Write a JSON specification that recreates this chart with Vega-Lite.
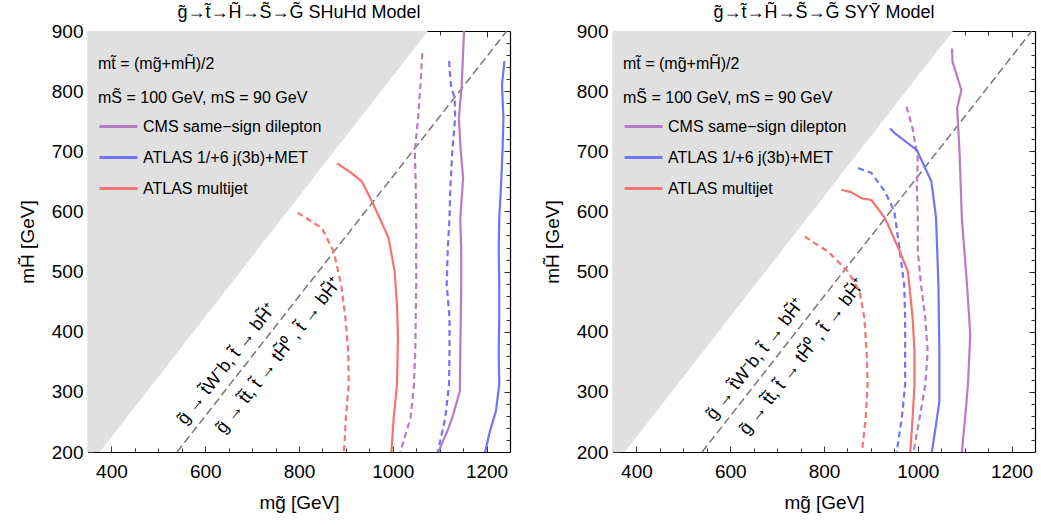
{
"$schema": "https://vega.github.io/schema/vega-lite/v6.json",
"background": "white",
"padding": {"left": 18, "top": 4, "right": 4, "bottom": 4},
"config": {
  "view": {"stroke": null},
  "font": "Liberation Sans",
  "axis": {"labelFont": "Liberation Sans", "titleFont": "Liberation Sans", "labelFontSize": 19, "titleFontSize": 19, "titleFontWeight": "normal", "labelColor": "#000", "titleColor": "#000", "grid": false, "domainColor": "#000", "domainWidth": 1.2, "tickColor": "#333", "tickWidth": 1, "format": "d"}
},
"datasets": {
  "forbidden": [{"mg": 350, "mh": 175}, {"mg": 1075, "mh": 900}],
  "diag": [{"mg": 540, "mh": 200}, {"mg": 1243, "mh": 900}],
  "notes": [
    {"p": "L", "mg": 646, "mh": 346, "t": "g̃ → t̃W⁻b,  t̃ → bH̃⁺"},
    {"p": "L", "mg": 757, "mh": 360, "t": "g̃ → t̃t̄, t̃ → tH̃⁰ , t̃ → bH̃⁺"},
    {"p": "R", "mg": 654, "mh": 354, "t": "g̃ → t̃W⁻b,  t̃ → bH̃⁺"},
    {"p": "R", "mg": 754, "mh": 358, "t": "g̃ → t̃t̄, t̃ → tH̃⁰ , t̃ → bH̃⁺"}
  ],
  "curves": [
    {"p":"L","c":"L1","e":"CMS same−sign dilepton","k":"solid","i":0,"mg":1152,"mh":900},
    {"p":"L","c":"L1","e":"CMS same−sign dilepton","k":"solid","i":1,"mg":1147,"mh":810},
    {"p":"L","c":"L1","e":"CMS same−sign dilepton","k":"solid","i":2,"mg":1141,"mh":755},
    {"p":"L","c":"L1","e":"CMS same−sign dilepton","k":"solid","i":3,"mg":1145,"mh":700},
    {"p":"L","c":"L1","e":"CMS same−sign dilepton","k":"solid","i":4,"mg":1150,"mh":655},
    {"p":"L","c":"L1","e":"CMS same−sign dilepton","k":"solid","i":5,"mg":1144,"mh":589},
    {"p":"L","c":"L1","e":"CMS same−sign dilepton","k":"solid","i":6,"mg":1146,"mh":533},
    {"p":"L","c":"L1","e":"CMS same−sign dilepton","k":"solid","i":7,"mg":1146,"mh":478},
    {"p":"L","c":"L1","e":"CMS same−sign dilepton","k":"solid","i":8,"mg":1145,"mh":423},
    {"p":"L","c":"L1","e":"CMS same−sign dilepton","k":"solid","i":9,"mg":1144,"mh":367},
    {"p":"L","c":"L1","e":"CMS same−sign dilepton","k":"solid","i":10,"mg":1143,"mh":301},
    {"p":"L","c":"L1","e":"CMS same−sign dilepton","k":"solid","i":11,"mg":1127,"mh":257},
    {"p":"L","c":"L1","e":"CMS same−sign dilepton","k":"solid","i":12,"mg":1116,"mh":234},
    {"p":"L","c":"L1","e":"CMS same−sign dilepton","k":"solid","i":13,"mg":1097,"mh":200},
    {"p":"L","c":"L2","e":"CMS same−sign dilepton","k":"dashed","i":0,"mg":1063,"mh":863},
    {"p":"L","c":"L2","e":"CMS same−sign dilepton","k":"dashed","i":1,"mg":1059,"mh":810},
    {"p":"L","c":"L2","e":"CMS same−sign dilepton","k":"dashed","i":2,"mg":1054,"mh":755},
    {"p":"L","c":"L2","e":"CMS same−sign dilepton","k":"dashed","i":3,"mg":1047,"mh":700},
    {"p":"L","c":"L2","e":"CMS same−sign dilepton","k":"dashed","i":4,"mg":1049,"mh":644},
    {"p":"L","c":"L2","e":"CMS same−sign dilepton","k":"dashed","i":5,"mg":1050,"mh":589},
    {"p":"L","c":"L2","e":"CMS same−sign dilepton","k":"dashed","i":6,"mg":1050,"mh":533},
    {"p":"L","c":"L2","e":"CMS same−sign dilepton","k":"dashed","i":7,"mg":1050,"mh":478},
    {"p":"L","c":"L2","e":"CMS same−sign dilepton","k":"dashed","i":8,"mg":1049,"mh":423},
    {"p":"L","c":"L2","e":"CMS same−sign dilepton","k":"dashed","i":9,"mg":1048,"mh":367},
    {"p":"L","c":"L2","e":"CMS same−sign dilepton","k":"dashed","i":10,"mg":1045,"mh":312},
    {"p":"L","c":"L2","e":"CMS same−sign dilepton","k":"dashed","i":11,"mg":1038,"mh":257},
    {"p":"L","c":"L2","e":"CMS same−sign dilepton","k":"dashed","i":12,"mg":1016,"mh":200},
    {"p":"L","c":"L3","e":"ATLAS 1/+6 j(3b)+MET","k":"dashed","i":0,"mg":1120,"mh":850},
    {"p":"L","c":"L3","e":"ATLAS 1/+6 j(3b)+MET","k":"dashed","i":1,"mg":1124,"mh":810},
    {"p":"L","c":"L3","e":"ATLAS 1/+6 j(3b)+MET","k":"dashed","i":2,"mg":1132,"mh":788},
    {"p":"L","c":"L3","e":"ATLAS 1/+6 j(3b)+MET","k":"dashed","i":3,"mg":1133,"mh":755},
    {"p":"L","c":"L3","e":"ATLAS 1/+6 j(3b)+MET","k":"dashed","i":4,"mg":1127,"mh":700},
    {"p":"L","c":"L3","e":"ATLAS 1/+6 j(3b)+MET","k":"dashed","i":5,"mg":1123,"mh":644},
    {"p":"L","c":"L3","e":"ATLAS 1/+6 j(3b)+MET","k":"dashed","i":6,"mg":1121,"mh":589},
    {"p":"L","c":"L3","e":"ATLAS 1/+6 j(3b)+MET","k":"dashed","i":7,"mg":1117,"mh":533},
    {"p":"L","c":"L3","e":"ATLAS 1/+6 j(3b)+MET","k":"dashed","i":8,"mg":1115,"mh":478},
    {"p":"L","c":"L3","e":"ATLAS 1/+6 j(3b)+MET","k":"dashed","i":9,"mg":1121,"mh":423},
    {"p":"L","c":"L3","e":"ATLAS 1/+6 j(3b)+MET","k":"dashed","i":10,"mg":1121,"mh":367},
    {"p":"L","c":"L3","e":"ATLAS 1/+6 j(3b)+MET","k":"dashed","i":11,"mg":1120,"mh":312},
    {"p":"L","c":"L3","e":"ATLAS 1/+6 j(3b)+MET","k":"dashed","i":12,"mg":1112,"mh":257},
    {"p":"L","c":"L3","e":"ATLAS 1/+6 j(3b)+MET","k":"dashed","i":13,"mg":1096,"mh":200},
    {"p":"L","c":"L4","e":"ATLAS 1/+6 j(3b)+MET","k":"solid","i":0,"mg":1238,"mh":850},
    {"p":"L","c":"L4","e":"ATLAS 1/+6 j(3b)+MET","k":"solid","i":1,"mg":1233,"mh":810},
    {"p":"L","c":"L4","e":"ATLAS 1/+6 j(3b)+MET","k":"solid","i":2,"mg":1236,"mh":755},
    {"p":"L","c":"L4","e":"ATLAS 1/+6 j(3b)+MET","k":"solid","i":3,"mg":1234,"mh":700},
    {"p":"L","c":"L4","e":"ATLAS 1/+6 j(3b)+MET","k":"solid","i":4,"mg":1231,"mh":644},
    {"p":"L","c":"L4","e":"ATLAS 1/+6 j(3b)+MET","k":"solid","i":5,"mg":1227,"mh":589},
    {"p":"L","c":"L4","e":"ATLAS 1/+6 j(3b)+MET","k":"solid","i":6,"mg":1226,"mh":533},
    {"p":"L","c":"L4","e":"ATLAS 1/+6 j(3b)+MET","k":"solid","i":7,"mg":1227,"mh":478},
    {"p":"L","c":"L4","e":"ATLAS 1/+6 j(3b)+MET","k":"solid","i":8,"mg":1227,"mh":423},
    {"p":"L","c":"L4","e":"ATLAS 1/+6 j(3b)+MET","k":"solid","i":9,"mg":1226,"mh":367},
    {"p":"L","c":"L4","e":"ATLAS 1/+6 j(3b)+MET","k":"solid","i":10,"mg":1227,"mh":312},
    {"p":"L","c":"L4","e":"ATLAS 1/+6 j(3b)+MET","k":"solid","i":11,"mg":1220,"mh":268},
    {"p":"L","c":"L4","e":"ATLAS 1/+6 j(3b)+MET","k":"solid","i":12,"mg":1207,"mh":234},
    {"p":"L","c":"L4","e":"ATLAS 1/+6 j(3b)+MET","k":"solid","i":13,"mg":1197,"mh":200},
    {"p":"L","c":"L5","e":"ATLAS multijet","k":"solid","i":0,"mg":881,"mh":680},
    {"p":"L","c":"L5","e":"ATLAS multijet","k":"solid","i":1,"mg":908,"mh":666},
    {"p":"L","c":"L5","e":"ATLAS multijet","k":"solid","i":2,"mg":934,"mh":650},
    {"p":"L","c":"L5","e":"ATLAS multijet","k":"solid","i":3,"mg":959,"mh":611},
    {"p":"L","c":"L5","e":"ATLAS multijet","k":"solid","i":4,"mg":991,"mh":556},
    {"p":"L","c":"L5","e":"ATLAS multijet","k":"solid","i":5,"mg":1004,"mh":500},
    {"p":"L","c":"L5","e":"ATLAS multijet","k":"solid","i":6,"mg":1009,"mh":445},
    {"p":"L","c":"L5","e":"ATLAS multijet","k":"solid","i":7,"mg":1011,"mh":390},
    {"p":"L","c":"L5","e":"ATLAS multijet","k":"solid","i":8,"mg":1009,"mh":312},
    {"p":"L","c":"L5","e":"ATLAS multijet","k":"solid","i":9,"mg":1002,"mh":257},
    {"p":"L","c":"L5","e":"ATLAS multijet","k":"solid","i":10,"mg":997,"mh":200},
    {"p":"L","c":"L6","e":"ATLAS multijet","k":"dashed","i":0,"mg":797,"mh":598},
    {"p":"L","c":"L6","e":"ATLAS multijet","k":"dashed","i":1,"mg":849,"mh":572},
    {"p":"L","c":"L6","e":"ATLAS multijet","k":"dashed","i":2,"mg":874,"mh":533},
    {"p":"L","c":"L6","e":"ATLAS multijet","k":"dashed","i":3,"mg":890,"mh":478},
    {"p":"L","c":"L6","e":"ATLAS multijet","k":"dashed","i":4,"mg":899,"mh":423},
    {"p":"L","c":"L6","e":"ATLAS multijet","k":"dashed","i":5,"mg":905,"mh":367},
    {"p":"L","c":"L6","e":"ATLAS multijet","k":"dashed","i":6,"mg":906,"mh":312},
    {"p":"L","c":"L6","e":"ATLAS multijet","k":"dashed","i":7,"mg":900,"mh":257},
    {"p":"L","c":"L6","e":"ATLAS multijet","k":"dashed","i":8,"mg":896,"mh":200},
    {"p":"R","c":"R1","e":"CMS same−sign dilepton","k":"solid","i":0,"mg":1073,"mh":871},
    {"p":"R","c":"R1","e":"CMS same−sign dilepton","k":"solid","i":1,"mg":1074,"mh":849},
    {"p":"R","c":"R1","e":"CMS same−sign dilepton","k":"solid","i":2,"mg":1093,"mh":802},
    {"p":"R","c":"R1","e":"CMS same−sign dilepton","k":"solid","i":3,"mg":1084,"mh":772},
    {"p":"R","c":"R1","e":"CMS same−sign dilepton","k":"solid","i":4,"mg":1089,"mh":700},
    {"p":"R","c":"R1","e":"CMS same−sign dilepton","k":"solid","i":5,"mg":1094,"mh":589},
    {"p":"R","c":"R1","e":"CMS same−sign dilepton","k":"solid","i":6,"mg":1105,"mh":478},
    {"p":"R","c":"R1","e":"CMS same−sign dilepton","k":"solid","i":7,"mg":1112,"mh":395},
    {"p":"R","c":"R1","e":"CMS same−sign dilepton","k":"solid","i":8,"mg":1107,"mh":312},
    {"p":"R","c":"R1","e":"CMS same−sign dilepton","k":"solid","i":9,"mg":1101,"mh":257},
    {"p":"R","c":"R1","e":"CMS same−sign dilepton","k":"solid","i":10,"mg":1094,"mh":200},
    {"p":"R","c":"R2","e":"CMS same−sign dilepton","k":"dashed","i":0,"mg":976,"mh":774},
    {"p":"R","c":"R2","e":"CMS same−sign dilepton","k":"dashed","i":1,"mg":989,"mh":738},
    {"p":"R","c":"R2","e":"CMS same−sign dilepton","k":"dashed","i":2,"mg":1000,"mh":688},
    {"p":"R","c":"R2","e":"CMS same−sign dilepton","k":"dashed","i":3,"mg":998,"mh":644},
    {"p":"R","c":"R2","e":"CMS same−sign dilepton","k":"dashed","i":4,"mg":1000,"mh":589},
    {"p":"R","c":"R2","e":"CMS same−sign dilepton","k":"dashed","i":5,"mg":1000,"mh":533},
    {"p":"R","c":"R2","e":"CMS same−sign dilepton","k":"dashed","i":6,"mg":1007,"mh":478},
    {"p":"R","c":"R2","e":"CMS same−sign dilepton","k":"dashed","i":7,"mg":1016,"mh":423},
    {"p":"R","c":"R2","e":"CMS same−sign dilepton","k":"dashed","i":8,"mg":1021,"mh":367},
    {"p":"R","c":"R2","e":"CMS same−sign dilepton","k":"dashed","i":9,"mg":1016,"mh":312},
    {"p":"R","c":"R2","e":"CMS same−sign dilepton","k":"dashed","i":10,"mg":1004,"mh":257},
    {"p":"R","c":"R2","e":"CMS same−sign dilepton","k":"dashed","i":11,"mg":991,"mh":200},
    {"p":"R","c":"R3","e":"ATLAS 1/+6 j(3b)+MET","k":"solid","i":0,"mg":941,"mh":738},
    {"p":"R","c":"R3","e":"ATLAS 1/+6 j(3b)+MET","k":"solid","i":1,"mg":951,"mh":730},
    {"p":"R","c":"R3","e":"ATLAS 1/+6 j(3b)+MET","k":"solid","i":2,"mg":998,"mh":702},
    {"p":"R","c":"R3","e":"ATLAS 1/+6 j(3b)+MET","k":"solid","i":3,"mg":1029,"mh":650},
    {"p":"R","c":"R3","e":"ATLAS 1/+6 j(3b)+MET","k":"solid","i":4,"mg":1039,"mh":589},
    {"p":"R","c":"R3","e":"ATLAS 1/+6 j(3b)+MET","k":"solid","i":5,"mg":1044,"mh":478},
    {"p":"R","c":"R3","e":"ATLAS 1/+6 j(3b)+MET","k":"solid","i":6,"mg":1046,"mh":367},
    {"p":"R","c":"R3","e":"ATLAS 1/+6 j(3b)+MET","k":"solid","i":7,"mg":1046,"mh":284},
    {"p":"R","c":"R3","e":"ATLAS 1/+6 j(3b)+MET","k":"solid","i":8,"mg":1039,"mh":246},
    {"p":"R","c":"R3","e":"ATLAS 1/+6 j(3b)+MET","k":"solid","i":9,"mg":1030,"mh":200},
    {"p":"R","c":"R4","e":"ATLAS 1/+6 j(3b)+MET","k":"dashed","i":0,"mg":873,"mh":672},
    {"p":"R","c":"R4","e":"ATLAS 1/+6 j(3b)+MET","k":"dashed","i":1,"mg":901,"mh":664},
    {"p":"R","c":"R4","e":"ATLAS 1/+6 j(3b)+MET","k":"dashed","i":2,"mg":930,"mh":633},
    {"p":"R","c":"R4","e":"ATLAS 1/+6 j(3b)+MET","k":"dashed","i":3,"mg":950,"mh":600},
    {"p":"R","c":"R4","e":"ATLAS 1/+6 j(3b)+MET","k":"dashed","i":4,"mg":962,"mh":533},
    {"p":"R","c":"R4","e":"ATLAS 1/+6 j(3b)+MET","k":"dashed","i":5,"mg":971,"mh":478},
    {"p":"R","c":"R4","e":"ATLAS 1/+6 j(3b)+MET","k":"dashed","i":6,"mg":973,"mh":423},
    {"p":"R","c":"R4","e":"ATLAS 1/+6 j(3b)+MET","k":"dashed","i":7,"mg":973,"mh":367},
    {"p":"R","c":"R4","e":"ATLAS 1/+6 j(3b)+MET","k":"dashed","i":8,"mg":973,"mh":312},
    {"p":"R","c":"R4","e":"ATLAS 1/+6 j(3b)+MET","k":"dashed","i":9,"mg":966,"mh":257},
    {"p":"R","c":"R4","e":"ATLAS 1/+6 j(3b)+MET","k":"dashed","i":10,"mg":955,"mh":200},
    {"p":"R","c":"R5","e":"ATLAS multijet","k":"solid","i":0,"mg":837,"mh":636},
    {"p":"R","c":"R5","e":"ATLAS multijet","k":"solid","i":1,"mg":858,"mh":632},
    {"p":"R","c":"R5","e":"ATLAS multijet","k":"solid","i":2,"mg":880,"mh":622},
    {"p":"R","c":"R5","e":"ATLAS multijet","k":"solid","i":3,"mg":901,"mh":619},
    {"p":"R","c":"R5","e":"ATLAS multijet","k":"solid","i":4,"mg":930,"mh":589},
    {"p":"R","c":"R5","e":"ATLAS multijet","k":"solid","i":5,"mg":962,"mh":533},
    {"p":"R","c":"R5","e":"ATLAS multijet","k":"solid","i":6,"mg":979,"mh":500},
    {"p":"R","c":"R5","e":"ATLAS multijet","k":"solid","i":7,"mg":989,"mh":423},
    {"p":"R","c":"R5","e":"ATLAS multijet","k":"solid","i":8,"mg":993,"mh":367},
    {"p":"R","c":"R5","e":"ATLAS multijet","k":"solid","i":9,"mg":993,"mh":312},
    {"p":"R","c":"R5","e":"ATLAS multijet","k":"solid","i":10,"mg":989,"mh":257},
    {"p":"R","c":"R5","e":"ATLAS multijet","k":"solid","i":11,"mg":984,"mh":200},
    {"p":"R","c":"R6","e":"ATLAS multijet","k":"dashed","i":0,"mg":759,"mh":558},
    {"p":"R","c":"R6","e":"ATLAS multijet","k":"dashed","i":1,"mg":809,"mh":533},
    {"p":"R","c":"R6","e":"ATLAS multijet","k":"dashed","i":2,"mg":851,"mh":500},
    {"p":"R","c":"R6","e":"ATLAS multijet","k":"dashed","i":3,"mg":876,"mh":467},
    {"p":"R","c":"R6","e":"ATLAS multijet","k":"dashed","i":4,"mg":886,"mh":423},
    {"p":"R","c":"R6","e":"ATLAS multijet","k":"dashed","i":5,"mg":891,"mh":367},
    {"p":"R","c":"R6","e":"ATLAS multijet","k":"dashed","i":6,"mg":893,"mh":312},
    {"p":"R","c":"R6","e":"ATLAS multijet","k":"dashed","i":7,"mg":889,"mh":257},
    {"p":"R","c":"R6","e":"ATLAS multijet","k":"dashed","i":8,"mg":881,"mh":200}
  ]
},
"spacing": 32,
"resolve": {"scale": {"color": "independent", "strokeDash": "independent"}, "legend": {"color": "independent"}},
"hconcat": [
{
  "title": {"text": "g̃→t̃→H̃→S̃→G̃ SHuHd Model", "fontSize": 18, "fontWeight": "normal", "font": "Liberation Sans", "frame": "group", "offset": 0, "color": "#000"},
  "width": 422, "height": 421,
  "resolve": {"axis": {"x": "independent", "y": "independent"}},
  "layer": [
    {"data": {"name": "forbidden"}, "mark": {"type": "area", "color": "#e0e0e0", "clip": true},
     "encoding": {
       "x": {"field": "mg", "type": "quantitative", "scale": {"domain": [350, 1250], "nice": false, "zero": false}, "axis": {"orient": "bottom", "values": [450,500,550,650,700,750,850,900,950,1050,1100,1150], "labels": false, "domain": false, "title": null, "tickSize": -4}},
       "y": {"field": "mh", "type": "quantitative", "scale": {"domain": [200, 900], "nice": false, "zero": false}, "axis": {"orient": "left", "values": [220,240,260,280,320,340,360,380,420,440,460,480,520,540,560,580,620,640,660,680,720,740,760,780,820,840,860,880], "labels": false, "domain": false, "title": null, "tickSize": -4}},
       "y2": {"datum": 900}}},
    {"data": {"name": "diag"}, "mark": {"type": "line", "color": "#777777", "strokeDash": [8, 4], "strokeWidth": 1.5, "clip": true},
     "encoding": {
       "x": {"field": "mg", "type": "quantitative", "scale": {"domain": [350, 1250], "nice": false, "zero": false}, "axis": {"orient": "top", "values": [400,600,800,1000,1200], "labels": false, "title": null, "tickSize": -6}},
       "y": {"field": "mh", "type": "quantitative", "scale": {"domain": [200, 900], "nice": false, "zero": false}, "axis": {"orient": "right", "values": [300,400,500,600,700,800], "labels": false, "title": null, "tickSize": -6}}}},
    {"data": {"name": "notes"}, "transform": [{"filter": "datum.p === 'L'"}], "mark": {"type": "text", "angle": 308, "fontSize": 18, "font": "Liberation Sans", "color": "#000", "align": "center", "baseline": "middle"},
     "encoding": {
       "x": {"field": "mg", "type": "quantitative", "scale": {"domain": [350, 1250], "nice": false, "zero": false}, "axis": {"orient": "top", "values": [450,500,550,650,700,750,850,900,950,1050,1100,1150], "labels": false, "domain": false, "title": null, "tickSize": -4}},
       "y": {"field": "mh", "type": "quantitative", "scale": {"domain": [200, 900], "nice": false, "zero": false}, "axis": {"orient": "right", "values": [220,240,260,280,320,340,360,380,420,440,460,480,520,540,560,580,620,640,660,680,720,740,760,780,820,840,860,880], "labels": false, "domain": false, "title": null, "tickSize": -4}},
       "text": {"field": "t"}}},
    {"data": {"name": "curves"}, "transform": [{"filter": "datum.p === 'L'"}], "mark": {"type": "line", "strokeWidth": 2.2},
     "encoding": {
       "x": {"field": "mg", "type": "quantitative", "scale": {"domain": [350, 1250], "nice": false, "zero": false}, "axis": {"orient": "bottom", "values": [400,600,800,1000,1200], "title": "mg̃ [GeV]", "tickSize": -6, "labelPadding": 16, "titlePadding": 12}},
       "y": {"field": "mh", "type": "quantitative", "scale": {"domain": [200, 900], "nice": false, "zero": false}, "axis": {"orient": "left", "values": [200,300,400,500,600,700,800,900], "title": "mH̃ [GeV]", "tickSize": -6, "labelPadding": 11, "titlePadding": 14}},
       "color": {"field": "e", "type": "nominal", "scale": {"domain": ["CMS same−sign dilepton", "ATLAS 1/+6 j(3b)+MET", "ATLAS multijet"], "range": ["#b77dc4", "#7373f5", "#f57373"]},
         "legend": {"orient": "none", "legendX": 10, "legendY": 25, "padding": 0, "title": ["mt̃ = (mg̃+mH̃)/2", "mS̃ = 100 GeV, mS = 90 GeV"], "titleFontSize": 16, "titleFontWeight": "normal", "titleColor": "#000", "titleFont": "Liberation Sans", "titleLineHeight": 34, "titlePadding": 0, "titleLimit": 500, "labelFontSize": 16, "labelFont": "Liberation Sans", "labelColor": "#000", "labelLimit": 500, "symbolType": "stroke", "symbolSize": 1444, "symbolStrokeWidth": 3, "symbolOpacity": 1, "rowPadding": 2, "labelOffset": 4}},
       "strokeDash": {"field": "k", "type": "nominal", "scale": {"domain": ["solid", "dashed"], "range": [[1, 0], [6, 4]]}, "legend": null},
       "detail": {"field": "c"},
       "order": {"field": "i", "type": "quantitative"}}}
  ]
},
{
  "title": {"text": "g̃→t̃→H̃→S̃→G̃ SYȲ Model", "fontSize": 18, "fontWeight": "normal", "font": "Liberation Sans", "frame": "group", "offset": 0, "color": "#000"},
  "width": 422, "height": 421,
  "resolve": {"axis": {"x": "independent", "y": "independent"}},
  "layer": [
    {"data": {"name": "forbidden"}, "mark": {"type": "area", "color": "#e0e0e0", "clip": true},
     "encoding": {
       "x": {"field": "mg", "type": "quantitative", "scale": {"domain": [350, 1250], "nice": false, "zero": false}, "axis": {"orient": "bottom", "values": [450,500,550,650,700,750,850,900,950,1050,1100,1150], "labels": false, "domain": false, "title": null, "tickSize": -4}},
       "y": {"field": "mh", "type": "quantitative", "scale": {"domain": [200, 900], "nice": false, "zero": false}, "axis": {"orient": "left", "values": [220,240,260,280,320,340,360,380,420,440,460,480,520,540,560,580,620,640,660,680,720,740,760,780,820,840,860,880], "labels": false, "domain": false, "title": null, "tickSize": -4}},
       "y2": {"datum": 900}}},
    {"data": {"name": "diag"}, "mark": {"type": "line", "color": "#777777", "strokeDash": [8, 4], "strokeWidth": 1.5, "clip": true},
     "encoding": {
       "x": {"field": "mg", "type": "quantitative", "scale": {"domain": [350, 1250], "nice": false, "zero": false}, "axis": {"orient": "top", "values": [400,600,800,1000,1200], "labels": false, "title": null, "tickSize": -6}},
       "y": {"field": "mh", "type": "quantitative", "scale": {"domain": [200, 900], "nice": false, "zero": false}, "axis": {"orient": "right", "values": [300,400,500,600,700,800], "labels": false, "title": null, "tickSize": -6}}}},
    {"data": {"name": "notes"}, "transform": [{"filter": "datum.p === 'R'"}], "mark": {"type": "text", "angle": 308, "fontSize": 18, "font": "Liberation Sans", "color": "#000", "align": "center", "baseline": "middle"},
     "encoding": {
       "x": {"field": "mg", "type": "quantitative", "scale": {"domain": [350, 1250], "nice": false, "zero": false}, "axis": {"orient": "top", "values": [450,500,550,650,700,750,850,900,950,1050,1100,1150], "labels": false, "domain": false, "title": null, "tickSize": -4}},
       "y": {"field": "mh", "type": "quantitative", "scale": {"domain": [200, 900], "nice": false, "zero": false}, "axis": {"orient": "right", "values": [220,240,260,280,320,340,360,380,420,440,460,480,520,540,560,580,620,640,660,680,720,740,760,780,820,840,860,880], "labels": false, "domain": false, "title": null, "tickSize": -4}},
       "text": {"field": "t"}}},
    {"data": {"name": "curves"}, "transform": [{"filter": "datum.p === 'R'"}], "mark": {"type": "line", "strokeWidth": 2.2},
     "encoding": {
       "x": {"field": "mg", "type": "quantitative", "scale": {"domain": [350, 1250], "nice": false, "zero": false}, "axis": {"orient": "bottom", "values": [400,600,800,1000,1200], "title": "mg̃ [GeV]", "tickSize": -6, "labelPadding": 16, "titlePadding": 12}},
       "y": {"field": "mh", "type": "quantitative", "scale": {"domain": [200, 900], "nice": false, "zero": false}, "axis": {"orient": "left", "values": [200,300,400,500,600,700,800,900], "title": "mH̃ [GeV]", "tickSize": -6, "labelPadding": 11, "titlePadding": 14}},
       "color": {"field": "e", "type": "nominal", "scale": {"domain": ["CMS same−sign dilepton", "ATLAS 1/+6 j(3b)+MET", "ATLAS multijet"], "range": ["#b77dc4", "#7373f5", "#f57373"]},
         "legend": {"orient": "none", "legendX": 10, "legendY": 25, "padding": 0, "title": ["mt̃ = (mg̃+mH̃)/2", "mS̃ = 100 GeV, mS = 90 GeV"], "titleFontSize": 16, "titleFontWeight": "normal", "titleColor": "#000", "titleFont": "Liberation Sans", "titleLineHeight": 34, "titlePadding": 0, "titleLimit": 500, "labelFontSize": 16, "labelFont": "Liberation Sans", "labelColor": "#000", "labelLimit": 500, "symbolType": "stroke", "symbolSize": 1444, "symbolStrokeWidth": 3, "symbolOpacity": 1, "rowPadding": 2, "labelOffset": 4}},
       "strokeDash": {"field": "k", "type": "nominal", "scale": {"domain": ["solid", "dashed"], "range": [[1, 0], [6, 4]]}, "legend": null},
       "detail": {"field": "c"},
       "order": {"field": "i", "type": "quantitative"}}}
  ]
}
]
}
